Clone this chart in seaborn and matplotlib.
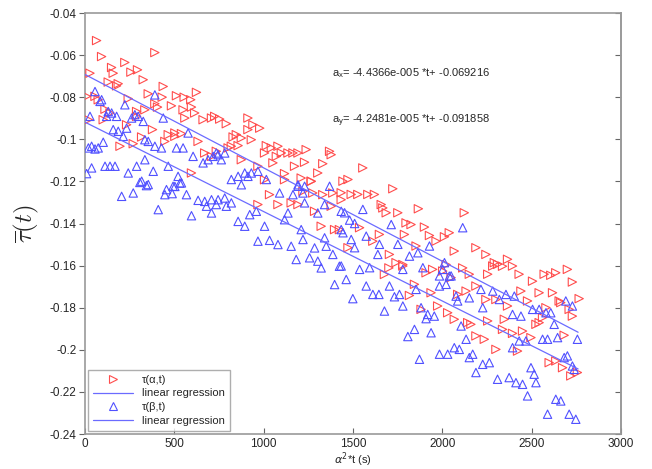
import matplotlib
matplotlib.use("Agg")
import matplotlib.pyplot as plt
from matplotlib.lines import Line2D
import seaborn as sns
import pandas as pd
import numpy as np

# ---- data ----
red_points = [
    (65, -0.0531), (93, -0.0607), (391, -0.0588), (28, -0.0686), (223, -0.0635),
    (149, -0.0659), (158, -0.0686), (257, -0.0681), (294, -0.0670), (326, -0.0717),
    (130, -0.0728), (186, -0.0736), (177, -0.0746), (438, -0.0749), (9, -0.0796),
    (56, -0.0796), (74, -0.0812), (354, -0.0784), (432, -0.0800), (624, -0.0777),
    (512, -0.0793), (555, -0.0800), (592, -0.0812), (596, -0.0847), (484, -0.0841),
    (549, -0.0860), (391, -0.0831), (406, -0.0847), (335, -0.0860), (289, -0.0868),
    (242, -0.0807), (112, -0.0857), (140, -0.0875), (19, -0.0907), (102, -0.0907),
    (233, -0.0931), (289, -0.0891), (378, -0.0954), (503, -0.0970), (540, -0.0973),
    (614, -0.0875), (661, -0.0907), (708, -0.0899), (726, -0.0891), (754, -0.0904),
    (791, -0.0926), (912, -0.0899), (940, -0.0931), (978, -0.0947), (912, -0.0954),
    (847, -0.0978), (875, -0.0994), (829, -0.0989), (857, -0.1030), (931, -0.1002),
    (819, -0.1033), (1015, -0.1030), (1043, -0.1041), (1080, -0.1033), (1005, -0.1065),
    (1071, -0.1081), (1099, -0.1065), (1136, -0.1065), (1164, -0.1065), (1192, -0.1065),
    (1238, -0.1049), (1369, -0.1057), (1378, -0.1073), (1331, -0.1116), (1229, -0.1109),
    (1173, -0.1128), (1117, -0.1163), (1210, -0.1184), (1266, -0.1199), (1303, -0.1160),
    (196, -0.1033), (270, -0.1021), (317, -0.0989), (447, -0.1010), (466, -0.0978),
    (503, -0.0986), (633, -0.1010), (596, -0.1160), (670, -0.1065), (708, -0.1081),
    (735, -0.1057), (801, -0.1041), (968, -0.1128), (1052, -0.1112), (875, -0.1097),
    (559, -0.0899),
    (968, -0.1310), (1005, -0.1192), (1033, -0.1263), (1080, -0.1310), (1154, -0.1302),
    (1192, -0.1310), (1220, -0.1247), (1275, -0.1255), (1285, -0.1342), (1322, -0.1413),
    (1331, -0.1263), (1378, -0.1318), (1397, -0.1429), (1424, -0.1429), (1387, -0.1255),
    (1434, -0.1287), (1117, -0.1192), (1266, -0.1200),
    (1555, -0.1136), (1472, -0.1191), (1444, -0.1199), (1723, -0.1235), (1434, -0.1254),
    (1490, -0.1262), (1527, -0.1262), (1583, -0.1262), (1620, -0.1262), (1658, -0.1310),
    (1667, -0.1326), (1751, -0.1349), (1686, -0.1349), (1866, -0.1330), (2123, -0.1349),
    (1797, -0.1397), (1825, -0.1405), (1900, -0.1417), (1537, -0.1420), (1788, -0.1452),
    (1928, -0.1457), (1611, -0.1484), (1472, -0.1515), (1853, -0.1507), (1965, -0.1484),
    (2012, -0.1463), (2039, -0.1444), (2067, -0.1531), (2188, -0.1515), (2244, -0.1547),
    (2291, -0.1586), (2365, -0.1570), (2393, -0.1602), (2430, -0.1641), (2570, -0.1641),
    (2607, -0.1646), (2635, -0.1634), (2700, -0.1618), (1704, -0.1547), (1741, -0.1586),
    (1779, -0.1602), (1909, -0.1634), (2002, -0.1626), (2049, -0.1657), (2151, -0.1641),
    (2254, -0.1641), (2282, -0.1602), (2309, -0.1594), (1648, -0.1452),
    (1701, -0.1611), (1676, -0.1642), (1779, -0.1595), (1946, -0.1618), (2021, -0.1595),
    (2114, -0.1611), (2337, -0.1603), (2505, -0.1674), (2728, -0.1678), (1844, -0.1689),
    (1937, -0.1729), (1816, -0.1742), (2086, -0.1737), (2133, -0.1721), (2188, -0.1697),
    (2244, -0.1761), (2300, -0.1761), (2365, -0.1792), (2440, -0.1721), (2477, -0.1768),
    (2542, -0.1729), (2617, -0.1729), (2654, -0.1768), (2663, -0.1776), (2710, -0.1808),
    (2766, -0.1757), (1881, -0.1808), (1974, -0.1792), (2030, -0.1824), (2067, -0.1855),
    (2142, -0.1871), (2160, -0.1879), (2188, -0.1934), (2235, -0.1950), (2254, -0.1863),
    (2347, -0.1855), (2337, -0.1903), (2393, -0.1922), (2449, -0.1911), (2496, -0.1942),
    (2524, -0.1879), (2542, -0.1871), (2561, -0.1847), (2580, -0.1800), (2728, -0.1840),
    (2682, -0.1931), (2300, -0.1998), (2421, -0.2006), (2598, -0.2061), (2635, -0.2053),
    (2673, -0.2085), (2719, -0.2124), (2756, -0.2108),
]

blue_points = [
    (56, -0.0773), (84, -0.0820), (93, -0.0812), (391, -0.0789), (28, -0.0891),
    (130, -0.0868), (149, -0.0875), (177, -0.0891), (121, -0.0891), (223, -0.0836),
    (261, -0.0899), (279, -0.0883), (298, -0.0891), (326, -0.0915), (233, -0.0947),
    (158, -0.0954), (186, -0.0962), (214, -0.0986), (438, -0.0899), (577, -0.0970),
    (19, -0.1041), (56, -0.1046), (74, -0.1041), (102, -0.1014), (37, -0.1033),
    (335, -0.1002), (354, -0.1010), (391, -0.1033), (428, -0.1041), (512, -0.1041),
    (549, -0.1041), (605, -0.1081), (466, -0.1128), (382, -0.1152), (335, -0.1097),
    (289, -0.1128), (242, -0.1160), (112, -0.1128), (140, -0.1128), (168, -0.1128),
    (37, -0.1136), (9, -0.1163), (521, -0.1176), (540, -0.1207), (317, -0.1199),
    (354, -0.1215), (493, -0.1223), (661, -0.1112), (689, -0.1097), (717, -0.1081),
    (735, -0.1065), (745, -0.1073), (763, -0.1097), (782, -0.1065), (819, -0.1191),
    (857, -0.1176), (894, -0.1160), (912, -0.1176), (931, -0.1160), (968, -0.1152),
    (1015, -0.1191), (1192, -0.1223), (1229, -0.1223), (1369, -0.1223),
    (205, -0.1271), (270, -0.1255), (307, -0.1205), (344, -0.1220), (410, -0.1334),
    (447, -0.1263), (456, -0.1239), (488, -0.1258), (503, -0.1224), (531, -0.1208),
    (568, -0.1263), (596, -0.1363), (633, -0.1290), (670, -0.1295), (680, -0.1318),
    (708, -0.1350), (708, -0.1287), (735, -0.1310), (745, -0.1287), (782, -0.1279),
    (791, -0.1318), (819, -0.1302), (857, -0.1390), (894, -0.1413), (875, -0.1216),
    (922, -0.1358), (959, -0.1342), (968, -0.1484), (1005, -0.1413), (1033, -0.1480),
    (1080, -0.1500), (1117, -0.1382), (1136, -0.1350), (1154, -0.1508), (1182, -0.1571),
    (1210, -0.1429), (1220, -0.1476), (1257, -0.1563), (1285, -0.1516), (1303, -0.1579),
    (1322, -0.1611), (1341, -0.1468), (1350, -0.1508), (1387, -0.1547), (1397, -0.1690),
    (1424, -0.1603), (1434, -0.1429), (1089, -0.1255), (1164, -0.1263), (1192, -0.1216),
    (1229, -0.1302), (1303, -0.1350), (1341, -0.1310), (1434, -0.1342), (1220, -0.1255),
    (1555, -0.1333), (1453, -0.1349), (1481, -0.1384), (1509, -0.1400), (1444, -0.1444),
    (1714, -0.1405), (2114, -0.1420), (1490, -0.1476), (1509, -0.1515), (1574, -0.1460),
    (1648, -0.1499), (1751, -0.1499), (1928, -0.1507), (1863, -0.1539), (1816, -0.1555),
    (1639, -0.1547), (1434, -0.1602), (1537, -0.1618), (1593, -0.1610), (1779, -0.1618),
    (1891, -0.1610), (2012, -0.1586), (1984, -0.1649), (2049, -0.1649),
    (1462, -0.1666), (1499, -0.1757), (1574, -0.1697), (1611, -0.1737), (1645, -0.1737),
    (1704, -0.1697), (1732, -0.1748), (1760, -0.1737), (1779, -0.1792), (1676, -0.1816),
    (1853, -0.1713), (1881, -0.1800), (1918, -0.1832), (1955, -0.1840), (1909, -0.1852),
    (1984, -0.1697), (2021, -0.1689), (2039, -0.1650), (2002, -0.1618), (2077, -0.1745),
    (2086, -0.1768), (2105, -0.1887), (2151, -0.1753), (2216, -0.1713), (2226, -0.1800),
    (2282, -0.1721), (2319, -0.1761), (2356, -0.1737), (2403, -0.1745), (2393, -0.1832),
    (2440, -0.1840), (2468, -0.1958), (2505, -0.1808), (2542, -0.1808), (2580, -0.1824),
    (2607, -0.1824), (2626, -0.1879), (2691, -0.1768), (2728, -0.1792), (2756, -0.1950),
    (1807, -0.1937), (1844, -0.1903), (1937, -0.1919), (1872, -0.2045), (1984, -0.2021),
    (2030, -0.2021), (2067, -0.1990), (2095, -0.1998), (2133, -0.1950), (2151, -0.2037),
    (2170, -0.2021), (2226, -0.2069), (2263, -0.2061), (2188, -0.2108), (2309, -0.2140),
    (2374, -0.2132), (2412, -0.2156), (2449, -0.2164), (2496, -0.2085), (2514, -0.2116),
    (2524, -0.2156), (2477, -0.2219), (2589, -0.2306), (2635, -0.2235), (2663, -0.2243),
    (2710, -0.2306), (2747, -0.2330), (2561, -0.1950), (2589, -0.1950), (2645, -0.1942),
    (2682, -0.2037), (2700, -0.2029), (2728, -0.2077), (2738, -0.2093), (2393, -0.1990),
    (2430, -0.1958),
]

# regression coefficients as printed on the chart
fit_x_slope, fit_x_icpt = -4.4366e-005, -0.069216
fit_y_slope, fit_y_icpt = -4.2481e-005, -0.091858
fit_range = [0, 2760]

x_ticks = [0, 500, 1000, 1500, 2000, 2500, 3000]
x_labels = ["0", "500", "1000", "1500", "2000", "2500", "3000"]
y_ticks = [-0.24, -0.22, -0.2, -0.18, -0.16, -0.14, -0.12, -0.1, -0.08, -0.06, -0.04]
y_labels = ["-0.24", "-0.22", "-0.2", "-0.18", "-0.16", "-0.14", "-0.12", "-0.1", "-0.08", "-0.06", "-0.04"]

red_df = pd.DataFrame(red_points, columns=["t", "tau"])
blue_df = pd.DataFrame(blue_points, columns=["t", "tau"])
fit_df = pd.DataFrame({"t": fit_range})
fit_df["ax"] = fit_x_icpt + fit_x_slope * fit_df["t"]
fit_df["ay"] = fit_y_icpt + fit_y_slope * fit_df["t"]

# ---- style ----
sns.set_style("white")
plt.rcParams["font.family"] = ["Liberation Sans", "DejaVu Sans"]
plt.rcParams["axes.unicode_minus"] = False

RED = "#ff4d4d"
BLUE = "#5050ff"
LINE = "#6b6bff"
GRAY = "#9a9a9a"

fig = plt.figure(figsize=(6.52, 4.69), dpi=100)
ax = fig.add_axes([85 / 652, 1 - 434 / 469, (621 - 85) / 652, (434 - 13) / 469])

sns.scatterplot(data=red_df, x="t", y="tau", marker=">", s=36, facecolors="none",
                edgecolor=RED, linewidth=0.8, color=RED, ax=ax, legend=False, zorder=3)
sns.lineplot(data=fit_df, x="t", y="ax", color=LINE, linewidth=0.9, ax=ax, legend=False, zorder=4)
sns.scatterplot(data=blue_df, x="t", y="tau", marker="^", s=36, facecolors="none",
                edgecolor=BLUE, linewidth=0.8, color=BLUE, ax=ax, legend=False, zorder=3)
sns.lineplot(data=fit_df, x="t", y="ay", color=LINE, linewidth=0.9, ax=ax, legend=False, zorder=4)

ax.set_xlim(0, 3000)
ax.set_ylim(-0.24, -0.04)
ax.set_xticks(x_ticks)
ax.set_xticklabels(x_labels)
ax.set_yticks(y_ticks)
ax.set_yticklabels(y_labels)

for sp in ax.spines.values():
    sp.set_visible(True)
    sp.set_color(GRAY)
    sp.set_linewidth(1.2)

ax.tick_params(axis="x", direction="in", length=4, width=0.8, color="#666666",
               labelsize=8.5, pad=3, bottom=True, top=False)
ax.tick_params(axis="y", direction="out", length=4, width=0.8, color="#666666",
               labelsize=8.5, pad=2, left=True, right=False)
sec = ax.secondary_yaxis("right")
sec.set_yticks(y_ticks)
sec.tick_params(direction="in", length=4, width=0.8, color="#666666", labelright=False)
sec.spines["right"].set_color(GRAY)
sec.spines["right"].set_linewidth(1.2)

ax.set_xlabel(r"$\alpha^{2}$*t (s)", fontsize=8, labelpad=0)
ax.set_ylabel(r"$\overline{\tau}(t)$", fontsize=18, math_fontfamily="cm", labelpad=6)

ax.text(1380, -0.0684, r"a$_{\mathregular{x}}$= -4.4366e-005 *t+ -0.069216",
        fontsize=8, va="center", ha="left")
ax.text(1380, -0.0912, r"a$_{\mathregular{y}}$= -4.2481e-005 *t+ -0.091858",
        fontsize=8, va="center", ha="left")

handles = [
    Line2D([], [], linestyle="none", marker=">", markersize=6, markerfacecolor="none",
           markeredgecolor=RED, markeredgewidth=0.8),
    Line2D([], [], color=LINE, linewidth=0.9),
    Line2D([], [], linestyle="none", marker="^", markersize=6, markerfacecolor="none",
           markeredgecolor=BLUE, markeredgewidth=0.8),
    Line2D([], [], color=LINE, linewidth=0.9),
]
labels = [r"τ(α,t)", "linear regression", r"τ(β,t)", "linear regression"]
leg = ax.legend(handles, labels, loc="lower left", fontsize=8, frameon=True, fancybox=False,
                borderaxespad=0.25, handlelength=3.6, labelspacing=0.35, borderpad=0.45,
                handletextpad=0.8)
leg.get_frame().set_edgecolor(GRAY)
leg.get_frame().set_linewidth(1.0)

fig.savefig("out.png", dpi=100)
